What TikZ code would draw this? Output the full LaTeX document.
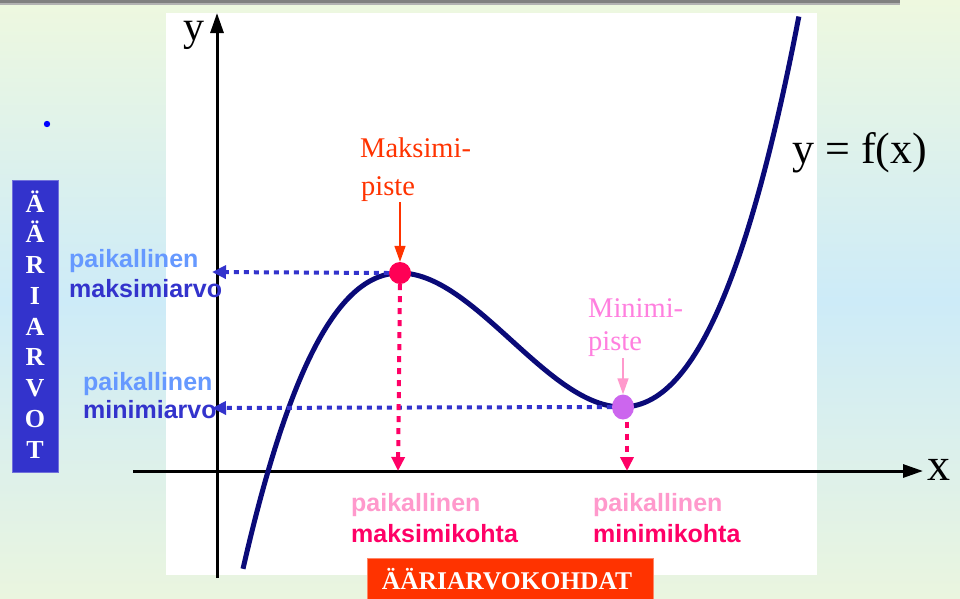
\documentclass[tikz,border=0pt]{standalone}
\usepackage{fontspec}
\setmainfont{Liberation Serif}
\newfontfamily\arialfont{Liberation Sans}
\usetikzlibrary{arrows.meta,shapes.geometric}
\definecolor{bgG}{HTML}{EEF8DF}
\definecolor{bgB}{HTML}{CDEBF8}
\definecolor{bgGb}{HTML}{EAF5DF}
\definecolor{navycurve}{HTML}{0A0A78}
\definecolor{dblue}{HTML}{3333CC}
\definecolor{lblue}{HTML}{6699FF}
\definecolor{hpink}{HTML}{FF0066}
\definecolor{lpink}{HTML}{FF99CC}
\definecolor{ored}{HTML}{FF3300}
\definecolor{mpink}{HTML}{FF7FDF}
\definecolor{minviolet}{HTML}{CC66EE}
\definecolor{maxred}{HTML}{FF0055}
\begin{document}
\begin{tikzpicture}[x=1pt,y=-1pt,
  axisline/.style={line width=3pt,-{Triangle[length=20pt,width=13pt]}},
  curvestyle/.style={line width=5pt,navycurve,line join=round},
  bluedots/.style={dblue,line width=4pt,dash pattern=on 5pt off 5pt,-{Triangle[length=14pt,width=13pt]}},
  pinkdots/.style={hpink,line width=4pt,dash pattern=on 6pt off 6pt,-{Triangle[length=14pt,width=13pt]}},
  thinarrow/.style={line width=1.5pt,-{Triangle[length=16pt,width=11pt]}},
  serifbig/.style={inner sep=0pt,anchor=base,font=\fontsize{42}{42}\selectfont},
  seriflbl/.style={inner sep=0pt,anchor=base west,font=\fontsize{28.5}{30}\selectfont},
  sanslbl/.style={inner sep=0pt,anchor=base west,font=\arialfont\bfseries\fontsize{25}{28}\selectfont},
  boxletter/.style={inner sep=0pt,anchor=base,text=white,font=\bfseries\fontsize{26}{28}\selectfont}
]
\useasboundingbox (0,0) rectangle (960,598);
% background
\fill[top color=bgG,bottom color=bgB] (0,0) rectangle (960,301);
\fill[top color=bgB,bottom color=bgGb] (0,300) rectangle (960,598);
\fill[black!50] (0,0) rectangle (900,3);
\fill[black!30] (0,3) rectangle (900,4.5);
\fill[white] (166,13) rectangle (817,575);
% bullet
\fill[blue] (47,124) circle (3.2);
% axes
\coordinate (yb) at (217,578);
\coordinate (yt) at (217,13);
\coordinate (xl) at (133,471);
\coordinate (xr) at (923,471);
\draw[axisline] (yb) -- (yt);
\draw[axisline] (xl) -- (xr);
\node[serifbig] (ylab) at (194,40) {y};
\node[serifbig,font=\fontsize{46}{46}\selectfont] (xlab) at (939,480) {x};
% curve
\draw[curvestyle] plot[domain=-2.68:2.88,samples=160,smooth] ({511+100*\x},{340-73.48*(\x*\x*\x/3-1.2321*\x)});
\node[inner sep=0pt,anchor=base west,font=\fontsize{44}{44}\selectfont] (flab) at (792,163) {y = f(x)};
% extreme points
\node[circle,fill=maxred,minimum size=22pt,inner sep=0pt] (maxpt) at (400,273) {};
\node[ellipse,fill=minviolet,minimum width=22pt,minimum height=25pt,inner sep=0pt] (minpt) at (623,407) {};
% dotted connectors
\coordinate (ymax) at (212,272);
\coordinate (ymin) at (212,408);
\coordinate (xmax) at (398,471);
\coordinate (xmin) at (627,471);
\draw[bluedots] (maxpt.west) -- (ymax);
\draw[bluedots] (minpt.west) -- (ymin);
\draw[pinkdots] (maxpt.south) -- (xmax);
\draw[pinkdots,shorten <=2pt] (minpt.south -| xmin) -- (xmin);
% point labels
\node[seriflbl,text=ored] (maxl1) at (360,157) {Maksimi-};
\node[seriflbl,text=ored] (maxl2) at (361,195) {piste};
\coordinate (maxarr) at (400,202);
\draw[thinarrow,ored] (maxarr) -- (maxpt.north);
\node[seriflbl,text=mpink] (minl1) at (588,317) {Minimi-};
\node[seriflbl,text=mpink] (minl2) at (588,350) {piste};
\coordinate (minarr) at (623,358);
\draw[thinarrow,lpink] (minarr) -- (minpt.north);
% left labels
\node[sanslbl,text=lblue] (pmaxa) at (69,267) {paikallinen};
\node[sanslbl,text=dblue] (pmaxb) at (69,297) {maksimiarvo};
\node[sanslbl,text=lblue] (pmina) at (83,390) {paikallinen};
\node[sanslbl,text=dblue] (pminb) at (83,418) {minimiarvo};
% bottom labels
\node[sanslbl,text=lpink] (kmaxa) at (351,511) {paikallinen};
\node[sanslbl,text=hpink] (kmaxb) at (351,542) {maksimikohta};
\node[sanslbl,text=lpink] (kmina) at (593,511) {paikallinen};
\node[sanslbl,text=hpink] (kminb) at (593,542) {minimikohta};
% blue box
\node[draw=dblue!70!white,fill=dblue,line width=0.8pt,minimum width=46pt,minimum height=292pt,inner sep=0pt] (vbox) at (35,326) {};
\foreach \c [count=\i] in {Ä,Ä,R,I,A,R,V,O,T}
  \node[boxletter] (vl\i) at (35,{212+30.75*(\i-1)}) {\c};
% orange box
\node[draw=ored!60!white,fill=ored,line width=0.8pt,minimum width=286pt,minimum height=44pt,inner sep=0pt] (hbox) at (510,580) {};
\node[boxletter,font=\bfseries\fontsize{25.5}{28}\selectfont] (htext) at (507,589) {ÄÄRIARVOKOHDAT};
\end{tikzpicture}
\end{document}
